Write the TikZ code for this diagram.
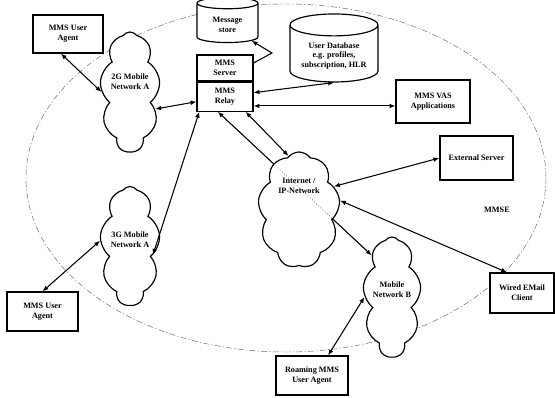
\documentclass[tikz,border=0pt]{standalone}
\usepackage{fontspec}
\setmainfont{Liberation Serif}
\usetikzlibrary{positioning,calc,shapes.geometric,shapes.symbols,arrows.meta}

\pgfdeclarelayer{background}
\pgfsetlayers{background,main}

\begin{document}
\begin{tikzpicture}[
    x=0.03cm, y=-0.03cm,
    txt/.style={font=\fontsize{7}{8.5}\selectfont\bfseries, align=center},
    box/.style={txt, draw=black, line width=1pt, fill=white, inner sep=1pt},
    net/.style={cloud, cloud puffs=9, cloud puff arc=110, cloud ignores aspect, draw=black, line width=1pt, fill=white},
    db/.style={txt, cylinder, shape border rotate=90, aspect=0.3, draw=black, line width=1pt, fill=white},
    link/.style={line width=0.9pt, {Latex[length=5pt,width=4pt]}-{Latex[length=5pt,width=4pt]}},
    zone/.style={draw=black!60, line width=0.4pt, dash pattern=on 5pt off 2pt on 1pt off 2pt}
]
\useasboundingbox (0,0) rectangle (555,398);

% Left side: user agents and mobile networks
\node[box, minimum width=2.1cm, minimum height=1.14cm] (ua1) at (68,34) {MMS User\\Agent};
\node[net, minimum width=1.8cm, minimum height=3.6cm,
      label={[txt, yshift=0.3cm]center:2G Mobile\\Network A}] (net2g) at (130,92) {};
\node[net, minimum width=1.8cm, minimum height=3.57cm,
      label={[txt, yshift=0.18cm]center:3G Mobile\\Network A}] (net3g) at (130,246) {};
\node[box, minimum width=2.13cm, minimum height=1.17cm] (ua2) at (42.5,311.5) {MMS User\\Agent};

% MMS server / relay and stores
\node[db, minimum width=1.83cm, minimum height=1.35cm] (store) at (227.5,24.5) {Message\\store};
\node[box, minimum width=1.68cm, minimum height=0.78cm] (server) at (225,68) {MMS\\Server};
\node[box, minimum width=1.68cm, minimum height=0.87cm, below=0pt of server] (relay) {MMS\\Relay};
\node[db, minimum width=2.64cm, minimum height=2.04cm] (userdb) at (334,56) {User Database\\e.g. profiles,\\subscription, HLR};
\node[box, minimum width=2.22cm, minimum height=1.29cm] (vas) at (433,101.5) {MMS VAS\\Applications};
\coordinate (bend) at (272,53);

% Internet and right side
\node[net, minimum width=2.46cm, minimum height=3.48cm,
      label={[txt, yshift=0.72cm]center:Internet /\\IP-Network}] (inet) at (299,210) {};
\node[box, minimum width=2.19cm, minimum height=1.32cm] (ext) at (476.5,158) {External Server};
\node[txt] (mmse) at (497,210) {MMSE};
\node[net, minimum width=1.74cm, minimum height=3.6cm,
      label={[txt, yshift=0.21cm]center:Mobile\\Network B}] (mobb) at (392,297) {};
\node[box, minimum width=1.92cm, minimum height=1.2cm] (wired) at (522,293) {Wired EMail\\Client};
\node[box, minimum width=2.16cm, minimum height=1.17cm] (roam) at (312,375.5) {Roaming MMS\\User Agent};

% MMSE boundary and the link hidden by the internet cloud
\begin{pgfonlayer}{background}
    \draw[zone] (286,178) ellipse [x radius=260, y radius=174];
    \draw[link] ($(relay.south west)!0.375!(relay.south east)$) -- (mobb.116);
\end{pgfonlayer}
\draw[dotted, line width=0.5pt] ($(relay.south west)!0.375!(relay.south east)$) -- (mobb.116);

% Links
\draw[link] (ua1.-110) -- (net2g.west);
\draw[link] (net2g.-34) -- (relay.-170);
\draw[link] ($(relay.south west)!0.05!(relay.south east)$) -- (net3g.-21);
\draw[link] (ua2.north) -- (net3g.170);
\draw[link] ($(relay.south west)!0.86!(relay.south east)$) -- (inet.101);
\draw[link] (relay.8) -- (userdb.-90);
\draw[link] (relay.-18) -- (relay.-18 -| vas.west);
\draw[line width=0.9pt, -{Latex[length=5pt,width=4pt]}] (server.10) -- (bend) -- (store.-34);
\draw[link] (inet.34) -- (ext.west);
\draw[link] (inet.13) -- ($(wired.north west)!0.27!(wired.north east)$);
\draw[link] ($(roam.north west)!0.72!(roam.north east)$) -- (mobb.west);

\end{tikzpicture}
\end{document}
